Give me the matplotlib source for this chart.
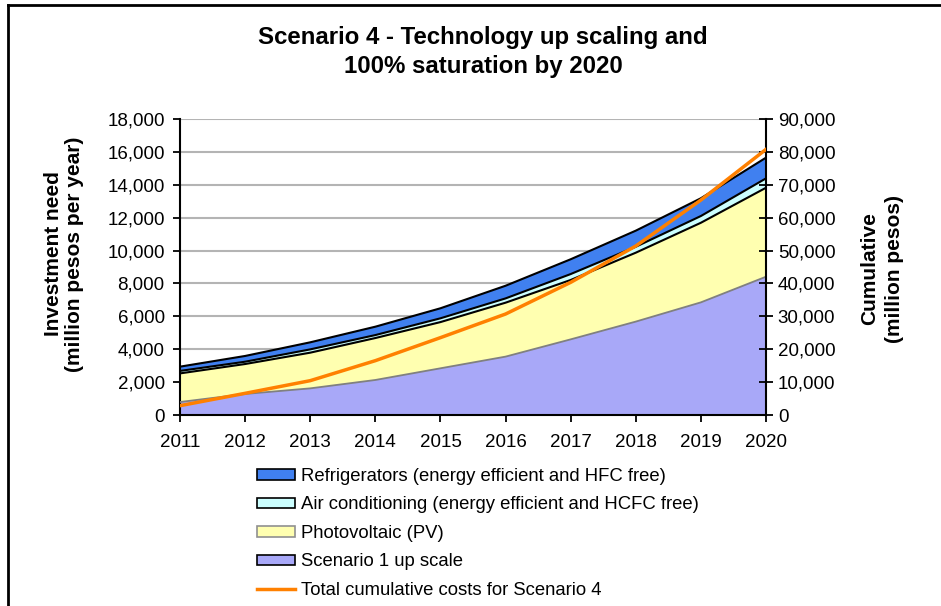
import matplotlib.pyplot as plt
from matplotlib.lines import Line2D
from matplotlib.patches import Patch
from matplotlib.ticker import FuncFormatter, MultipleLocator
import numpy as np

plt.rcParams["font.family"] = ["Liberation Sans", "DejaVu Sans"]

years = [2011, 2012, 2013, 2014, 2015, 2016, 2017, 2018, 2019, 2020]
scenario1 = [790, 1280, 1620, 2130, 2840, 3550, 4600, 5680, 6850, 8410]
photovoltaic = [1740, 1820, 2170, 2550, 2810, 3280, 3610, 4190, 4840, 5410]
air_cond = [150, 140, 200, 180, 230, 260, 360, 360, 410, 570]
refrig = [260, 350, 430, 510, 610, 770, 900, 980, 1080, 1260]
cumulative = [2840, 6590, 10440, 16520, 23520, 30700, 40330, 51380, 65360, 80770]

labels = [
    "Refrigerators (energy efficient and HFC free)",
    "Air conditioning (energy efficient and HCFC free)",
    "Photovoltaic (PV)",
    "Scenario 1 up scale",
    "Total cumulative costs for Scenario 4",
]

c_s1 = "#a8a8f8"
c_pv = "#ffffb0"
c_ac = "#ccffff"
c_ref = "#4080f0"
c_line = "#ff8000"

W, H = 941, 606
fig = plt.figure(figsize=(W / 100, H / 100), dpi=100)
ax = fig.add_axes([180 / W, 1 - 415 / H, (766 - 180) / W, (415 - 119) / H])

ax.stackplot(years, scenario1, photovoltaic, air_cond, refrig,
             colors=[c_s1, c_pv, c_ac, c_ref], linewidth=0, zorder=2)
tops = np.cumsum([scenario1, photovoltaic, air_cond, refrig], axis=0)
ax.plot(years, tops[0], color="#808080", lw=1.3, zorder=3)
for t in tops[1:]:
    ax.plot(years, t, color="black", lw=1.5, zorder=3)

ax.set_xlim(2011, 2020)
ax.set_ylim(0, 18000)
ax.yaxis.set_major_locator(MultipleLocator(2000))
ax.set_xticks(years)
ax.yaxis.set_major_formatter(FuncFormatter(lambda v, p: f"{v:,.0f}"))
ax.grid(axis="y", color="#b4b4b4", lw=1.5, zorder=0)
ax.set_axisbelow(True)
for s in ["top", "right"]:
    ax.spines[s].set_visible(False)
ax.spines["left"].set_linewidth(1.5)
ax.spines["bottom"].set_linewidth(1.5)
ax.tick_params(axis="both", labelsize=13.5, width=1.3, length=5, colors="black")
ax.tick_params(axis="y", pad=6)
ax.tick_params(axis="x", pad=9)

ax2 = ax.twinx()
ax2.plot(years, cumulative, color=c_line, lw=2.5, zorder=5)
ax2.set_ylim(0, 90000)
ax2.yaxis.set_major_locator(MultipleLocator(10000))
ax2.yaxis.set_major_formatter(FuncFormatter(lambda v, p: f"{v:,.0f}"))
for s in ["top", "left", "bottom"]:
    ax2.spines[s].set_visible(False)
ax2.spines["right"].set_linewidth(1.5)
ax2.tick_params(axis="y", labelsize=13.5, width=1.3, length=10, direction="inout")

fig.text(483 / W, 1 - 52 / H, "Scenario 4 - Technology up scaling and\n100% saturation by 2020",
         ha="center", va="center", fontsize=17.3, fontweight="bold", linespacing=1.35)
fig.text(64 / W, 1 - 254 / H, "Investment need\n(million pesos per year)",
         ha="center", va="center", rotation=90, fontsize=15, fontweight="bold",
         linespacing=1.15)
fig.text(882 / W, 1 - 269 / H, "Cumulative\n(million pesos)",
         ha="center", va="center", rotation=90, fontsize=15, fontweight="bold",
         linespacing=1.45)

handles = [
    Patch(facecolor=c_ref, edgecolor="black", lw=1.2),
    Patch(facecolor=c_ac, edgecolor="black", lw=1.2),
    Patch(facecolor=c_pv, edgecolor="#909090", lw=1.2),
    Patch(facecolor=c_s1, edgecolor="black", lw=1.2),
    Line2D([0], [0], color=c_line, lw=2.5),
]
fig.legend(handles, labels, loc="upper left", bbox_to_anchor=(257 / W, 1 - 468 / H),
           frameon=False, fontsize=13.3, handlelength=2.05, handleheight=0.5,
           handletextpad=0.35, labelspacing=0.62, borderaxespad=0, borderpad=0)

fig.add_artist(Line2D([7.5 / W, 7.5 / W], [0, 1 - 4.5 / H], color="black", lw=2))
fig.add_artist(Line2D([7.5 / W, 1], [1 - 4.5 / H, 1 - 4.5 / H], color="black", lw=2))

fig.savefig("out.png", dpi=100)
